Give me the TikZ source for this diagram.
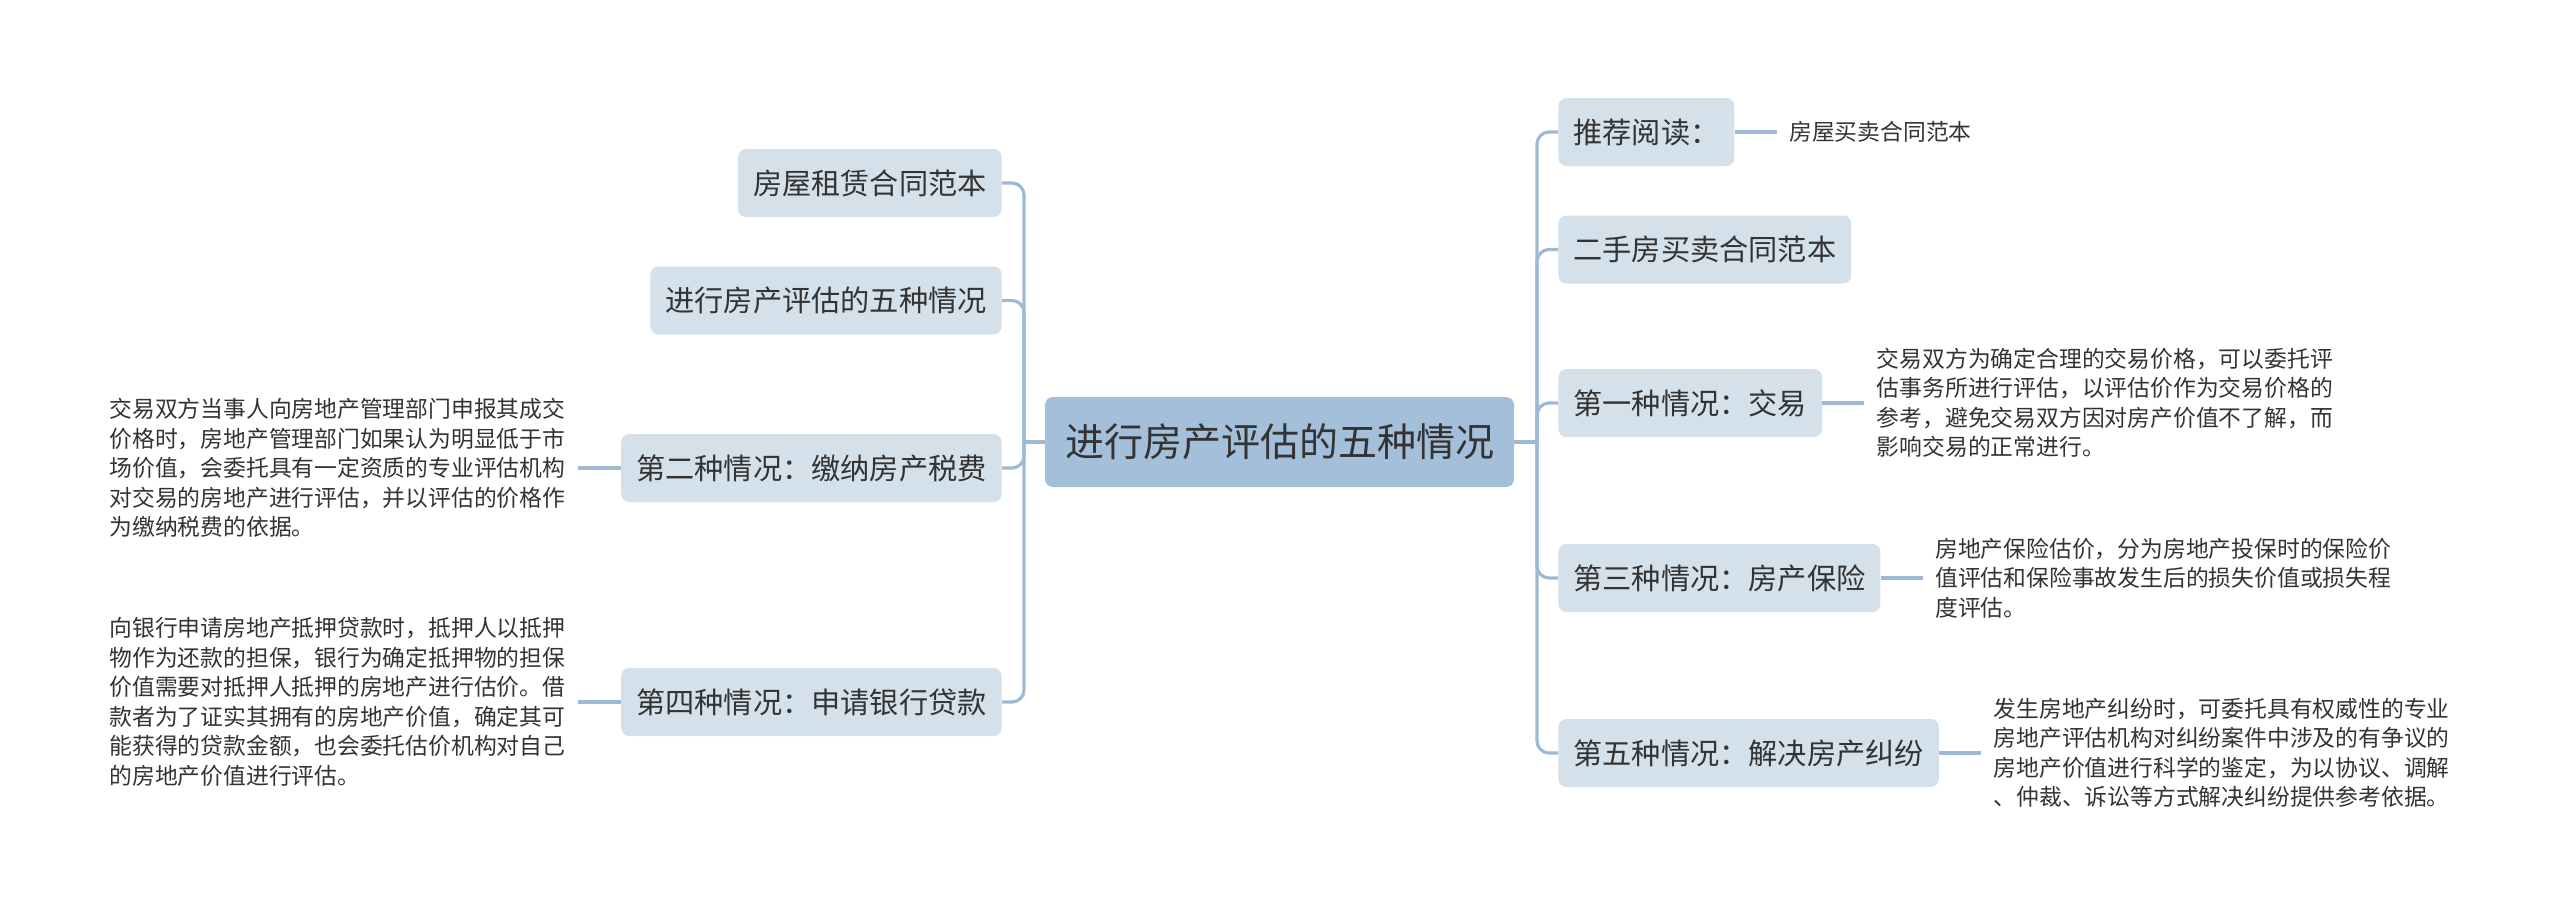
\documentclass[tikz,border=0pt]{standalone}
\usepackage{fontspec}
\setmainfont{Noto Sans CJK SC}
\usepackage{xcolor}
\usepackage{tikz}
\usetikzlibrary{positioning,calc}
\definecolor{mapblue}{HTML}{A3BFD9}
\definecolor{mapsoft}{HTML}{D4E0EA}
\definecolor{mapline}{HTML}{9DB9D4}
\definecolor{maptext}{HTML}{333333}
\tikzset{
  topic/.style={fill=mapblue, rounded corners=4pt, text=maptext, font=\fontsize{19.5pt}{23pt}\selectfont, inner xsep=10pt, minimum height=45pt},
  branch/.style={fill=mapsoft, rounded corners=4pt, text=maptext, font=\fontsize{14.6pt}{18pt}\selectfont, inner xsep=7.5pt, minimum height=34pt},
  note/.style={align=left, text=maptext, font=\fontsize{11.4pt}{14.75pt}\selectfont, inner xsep=6pt, inner ysep=0pt},
  link/.style={draw=mapline, line width=1.6pt, rounded corners=6pt}
}

\begin{document}
\begin{tikzpicture}[x=0.5pt, y=-0.5pt]
\useasboundingbox (0,0) rectangle (2560,921);
\node[topic] (root) at (1279.5,442) {进行房产评估的五种情况};
\coordinate (lj) at (1024,442);
\coordinate (rj) at (1537,442);
\node[branch, anchor=east] (rent) at (1002,183) {房屋租赁合同范本};
\node[branch, anchor=east] (title) at (1002,300.5) {进行房产评估的五种情况};
\node[branch, anchor=east] (sec2) at (1002,468) {第二种情况：缴纳房产税费};
\node[branch, anchor=east] (sec4) at (1002,702) {第四种情况：申请银行贷款};
\node[branch, anchor=west] (read) at (1558,132) {推荐阅读：};
\node[branch, anchor=west] (resale) at (1558,249.5) {二手房买卖合同范本};
\node[branch, anchor=west] (sec1) at (1558,403) {第一种情况：交易};
\node[branch, anchor=west] (sec3) at (1558,578) {第三种情况：房产保险};
\node[branch, anchor=west] (sec5) at (1558,753) {第五种情况：解决房产纠纷};
\node[note, left=21.5pt of sec2] (n2) {交易双方当事人向房地产管理部门申报其成交\\价格时，房地产管理部门如果认为明显低于市\\场价值，会委托具有一定资质的专业评估机构\\对交易的房地产进行评估，并以评估的价格作\\为缴纳税费的依据。};
\node[note, left=21.5pt of sec4] (n4) {向银行申请房地产抵押贷款时，抵押人以抵押\\物作为还款的担保，银行为确定抵押物的担保\\价值需要对抵押人抵押的房地产进行估价。借\\款者为了证实其拥有的房地产价值，确定其可\\能获得的贷款金额，也会委托估价机构对自己\\的房地产价值进行评估。};
\node[note, right=21pt of read] (readleaf) {房屋买卖合同范本};
\node[note, right=21pt of sec1] (n1) {交易双方为确定合理的交易价格，可以委托评\\估事务所进行评估，以评估价作为交易价格的\\参考，避免交易双方因对房产价值不了解，而\\影响交易的正常进行。};
\node[note, right=21pt of sec3] (n3) {房地产保险估价，分为房地产投保时的保险价\\值评估和保险事故发生后的损失价值或损失程\\度评估。};
\node[note, right=21pt of sec5] (n5) {发生房地产纠纷时，可委托具有权威性的专业\\房地产评估机构对纠纷案件中涉及的有争议的\\房地产价值进行科学的鉴定，为以协议、调解\\、仲裁、诉讼等方式解决纠纷提供参考依据。};
\draw[link] (root.west) -- (lj);
\draw[link] (lj) |- (rent.east);
\draw[link] (lj) |- (title.east);
\draw[link] (lj) |- (sec2.east);
\draw[link] (lj) |- (sec4.east);
\draw[link] (root.east) -- (rj);
\draw[link] (rj) |- (read.west);
\draw[link] (rj) |- (resale.west);
\draw[link] (rj) |- (sec1.west);
\draw[link] (rj) |- (sec3.west);
\draw[link] (rj) |- (sec5.west);
\draw[link] (sec2.west) -- (n2.east);
\draw[link] (sec4.west) -- (n4.east);
\draw[link] (read.east) -- (readleaf.west);
\draw[link] (sec1.east) -- (n1.west);
\draw[link] (sec3.east) -- (n3.west);
\draw[link] (sec5.east) -- (n5.west);
\end{tikzpicture}
\end{document}
